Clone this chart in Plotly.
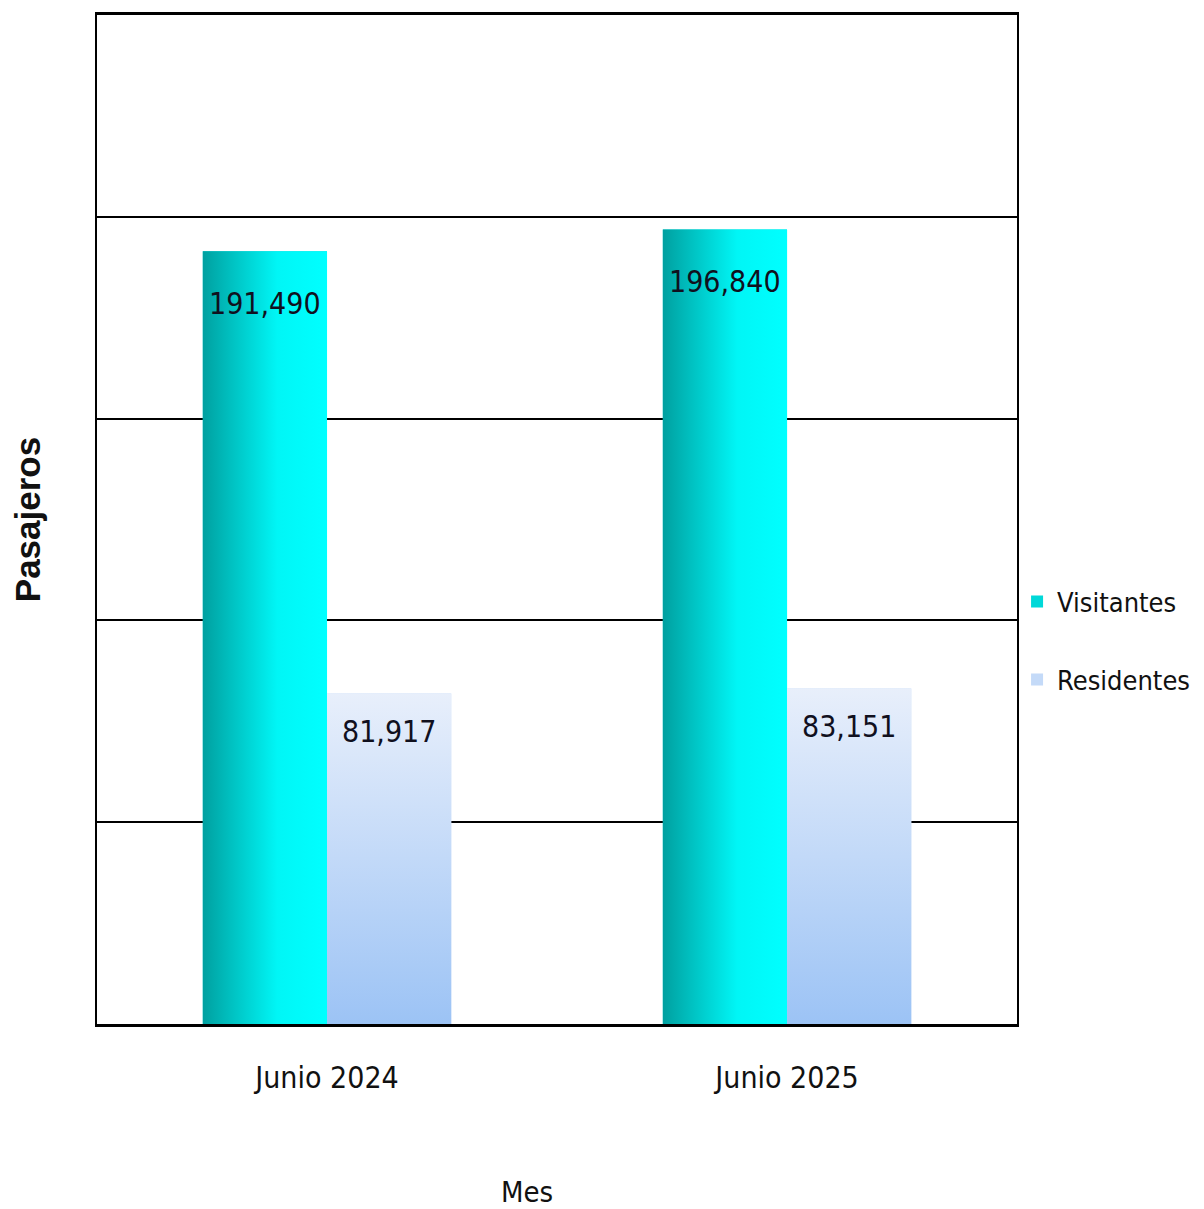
import plotly.graph_objects as go

# ---- data ----
categories = ["Junio 2024", "Junio 2025"]
series_names = ["Visitantes", "Residentes"]
visitantes = [191490, 196840]
residentes = [81917, 83151]
y_max = 250000
y_step = 50000
x_title = "Mes"
y_title = "Pasajeros"

# ---- style ----
FONT = "DejaVu Sans Condensed, Liberation Sans Narrow, Arial Narrow, sans-serif"
bar_width = 0.27
offsets = {"Visitantes": -0.27, "Residentes": 0.0}
solid = {"Visitantes": "#00d8d8", "Residentes": "#c4daf8"}
gradients = {
    "Visitantes": dict(type="horizontal",
                       colorscale=[[0, "#00a0a0"], [0.6, "#00f6f6"], [1, "#00ffff"]]),
    "Residentes": dict(type="vertical",
                       colorscale=[[0, "#9cc3f5"], [1, "#e8effb"]]),
}
label_shift = {"Visitantes": -52, "Residentes": -38}

positions = list(range(len(categories)))
values = {"Visitantes": visitantes, "Residentes": residentes}

fig = go.Figure()

# real bars (legend + hover)
for name in series_names:
    fig.add_trace(go.Bar(
        x=positions, y=values[name], name=name,
        width=bar_width, offset=offsets[name],
        marker=dict(color=solid[name], line=dict(width=0)),
        legendgroup=name, hovertemplate="%{y:,}<extra>" + name + "</extra>",
    ))

# gradient faces on each bar, derived from the same data
for name in series_names:
    for p, v in zip(positions, values[name]):
        x0 = p + offsets[name]
        x1 = x0 + bar_width
        fig.add_trace(go.Scatter(
            x=[x0, x0, x1, x1, x0], y=[0, v, v, 0, 0],
            mode="none", fill="toself",
            fillgradient=gradients[name],
            showlegend=False, hoverinfo="skip",
        ))

# value labels
for name in series_names:
    for p, v in zip(positions, values[name]):
        fig.add_annotation(
            x=p + offsets[name] + bar_width / 2, y=v,
            text=f"{v:,}", showarrow=False,
            yanchor="middle", yshift=label_shift[name],
            font=dict(family=FONT, size=30, color="#10101e"),
        )

# x-axis title (slightly left of centre, as in the original)
fig.add_annotation(
    xref="paper", yref="paper", x=0.4675, y=-0.1663,
    xanchor="center", yanchor="middle", showarrow=False,
    text=x_title, font=dict(family=FONT, size=29, color="#111111"),
)

fig.update_layout(
    width=1196, height=1201,
    margin=dict(l=89, r=185, t=7, b=185),
    paper_bgcolor="white", plot_bgcolor="white",
    showlegend=True,
    legend=dict(
        xref="container", yref="container",
        x=0.8437, xanchor="left", y=0.473, yanchor="middle",
        font=dict(family=FONT, size=27, color="#111111"),
        tracegroupgap=40, bgcolor="rgba(0,0,0,0)",
    ),
    bargap=0.46,
)

fig.update_xaxes(
    range=[-0.5, len(categories) - 0.5],
    tickvals=positions, ticktext=categories,
    tickfont=dict(family=FONT, size=30, color="#111111"),
    ticks="outside", ticklen=25, tickcolor="rgba(0,0,0,0)",
    showline=True, linecolor="black", linewidth=3, mirror=True,
    showgrid=False, zeroline=False,
    automargin=False,
)
fig.update_yaxes(
    range=[0, y_max], dtick=y_step, tick0=0,
    showticklabels=False, ticks="",
    showgrid=True, gridcolor="black", gridwidth=2,
    showline=True, linecolor="black", linewidth=2, mirror=True,
    zeroline=False,
    title=dict(text=f"<b>{y_title}</b>",
               font=dict(family="Liberation Sans, Arial, sans-serif", size=35, color="#111111"),
               standoff=58),
    automargin=False,
)

fig.write_html("out.html")
